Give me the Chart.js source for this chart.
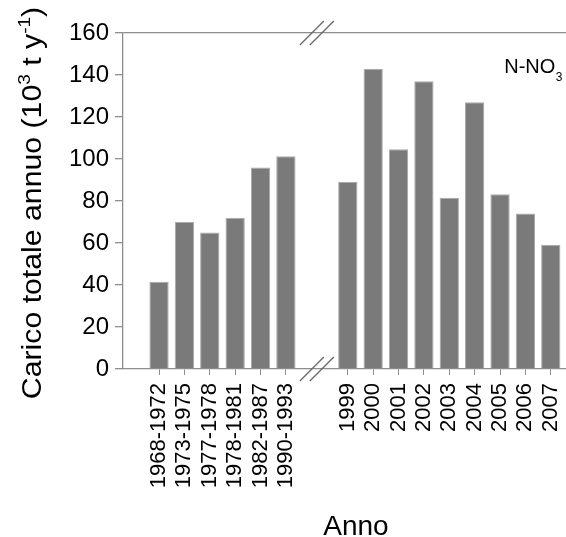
<!DOCTYPE html>
<html><head><meta charset="utf-8">
<script src="https://cdn.jsdelivr.net/npm/chart.js@4/dist/chart.umd.min.js"></script>
<style>html,body{margin:0;padding:0;background:#fff}#wrap{width:566px;height:537px;position:relative}</style>
</head><body><div id="wrap"><canvas id="c"></canvas></div>
<script>
// ---- data ----
const periodLabels = ['1968-1972','1973-1975','1977-1978','1978-1981','1982-1987','1990-1993'];
const periodValues = [41.5, 70, 65, 72, 96, 101.3];
const yearLabels = ['1999','2000','2001','2002','2003','2004','2005','2006','2007'];
const yearValues = [89, 143, 104.6, 137, 81.6, 127, 83.2, 74.1, 59.2];
const yTickValues = [0, 20, 40, 60, 80, 100, 120, 140, 160];
const GROUP_GAP = 1.44;      // extra slot space at the axis break
const seriesName = 'N-NO3';

// ---- build positions (category index, with a break between groups) ----
const allLabels = periodLabels.concat(yearLabels);
const allValues = periodValues.concat(yearValues);
const xPos = allLabels.map((l, i) => i < periodLabels.length ? i : i + GROUP_GAP);
const labelAt = new Map(xPos.map((x, i) => [x.toFixed(3), allLabels[i]]));
const breakValue = (periodLabels.length - 1 + periodLabels.length + GROUP_GAP) / 2;

const AXIS = '#8e8e8e';
const BAR = '#7a7a7a';
const FONT = "'Liberation Sans', Arial, sans-serif";

const decor = {
  id: 'decor',
  afterDraw(chart) {
    const {ctx, chartArea: a, scales: {x}} = chart;
    ctx.save();
    // axis break marks
    const bx = x.getPixelForValue(breakValue);
    ctx.strokeStyle = '#6a6a6a';
    ctx.lineWidth = 1.3;
    [a.top, a.bottom].forEach(cy => {
      [-5, 5].forEach(dx => {
        ctx.beginPath();
        ctx.moveTo(bx + dx - 12, cy + 12);
        ctx.lineTo(bx + dx + 12, cy - 12);
        ctx.stroke();
      });
    });
    ctx.fillStyle = '#000';
    // y-axis title with superscripts
    const main = 27, sup = 17;
    const parts = [
      ['Carico totale annuo (10', main, 0],
      ['3', sup, -11],
      [' t y', main, 0],
      ['-1', sup, -11],
      [')', main, 0]
    ];
    let total = 0;
    parts.forEach(p => { ctx.font = p[1] + 'px ' + FONT; total += ctx.measureText(p[0]).width; });
    ctx.save();
    ctx.translate(41, (a.top + a.bottom) / 2 + 2);
    ctx.rotate(-Math.PI / 2);
    ctx.scale(1.12, 1);
    ctx.textBaseline = 'alphabetic';
    ctx.textAlign = 'left';
    let cx = -total / 2;
    parts.forEach(p => {
      ctx.font = p[1] + 'px ' + FONT;
      ctx.fillText(p[0], cx, p[2]);
      cx += ctx.measureText(p[0]).width;
    });
    ctx.restore();
    // x-axis title
    ctx.font = '28px ' + FONT;
    ctx.textAlign = 'center';
    ctx.textBaseline = 'alphabetic';
    ctx.fillText('Anno', 356, 535);
    // series label N-NO3 (subscript 3)
    ctx.textAlign = 'left';
    ctx.font = '20px ' + FONT;
    const base = seriesName.slice(0, -1), sub = seriesName.slice(-1);
    const w = ctx.measureText(base).width;
    ctx.font = '12px ' + FONT;
    const ws = ctx.measureText(sub).width;
    const lx = 562 - w - ws;
    ctx.font = '20px ' + FONT;
    ctx.fillText(base, lx, 73);
    ctx.font = '12px ' + FONT;
    ctx.fillText(sub, lx + w + 0.5, 81);
    ctx.restore();
  }
};

new Chart(document.getElementById('c'), {
  type: 'bar',
  data: {
    datasets: [{
      data: xPos.map((x, i) => ({x: x, y: allValues[i]})),
      backgroundColor: BAR,
      borderColor: '#a9a9a9',
      borderWidth: 1,
      borderSkipped: 'bottom',
      barPercentage: 0.76,
      categoryPercentage: 1
    }]
  },
  options: {
    responsive: true,
    maintainAspectRatio: false,
    animation: false,
    layout: {padding: {top: 33, right: 0, left: 0, bottom: 0}},
    plugins: {legend: {display: false}, tooltip: {enabled: false}},
    scales: {
      x: {
        type: 'linear',
        offset: false,
        min: -1.42,
        max: allLabels.length - 1 + GROUP_GAP + 0.6,
        afterBuildTicks: s => { s.ticks = xPos.map(v => ({value: v})); },
        afterFit: s => { s.height = 168; s.paddingLeft = 0; s.paddingRight = 0; },
        border: {display: true, color: AXIS, width: 1.3},
        grid: {offset: false, drawOnChartArea: false, drawTicks: true, tickLength: 6, color: AXIS},
        ticks: {
          autoSkip: false, maxRotation: 90, minRotation: 90, padding: 8,
          color: '#000', font: {family: FONT, size: 22},
          callback: v => labelAt.get(Number(v).toFixed(3)) || ''
        }
      },
      y: {
        min: 0, max: 160,
        afterBuildTicks: s => { s.ticks = yTickValues.map(v => ({value: v})); },
        afterFit: s => { s.width = 123; s.paddingTop = 0; s.paddingBottom = 0; },
        border: {display: true, color: AXIS, width: 1.3},
        grid: {
          drawOnChartArea: true, drawTicks: true, tickLength: 8,
          color: c => (c.tick && c.tick.value === 160) ? AXIS : 'rgba(0,0,0,0)',
          tickColor: AXIS, lineWidth: 1.3
        },
        ticks: {padding: 6, color: '#000', font: {family: FONT, size: 24}}
      }
    }
  },
  plugins: [decor]
});
</script>
</body></html>
